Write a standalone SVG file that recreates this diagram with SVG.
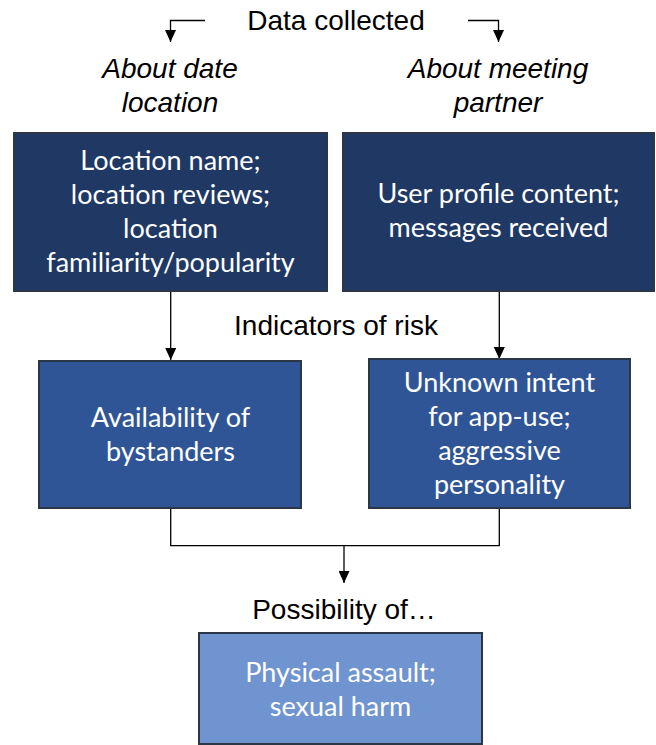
<svg xmlns="http://www.w3.org/2000/svg" width="656" height="745" viewBox="0 0 656 745">
<style>
.lbl{font-family:"Liberation Sans",Arial,sans-serif;font-size:28px;fill:#000;text-anchor:middle}
.it{font-style:italic}
.bt{font-family:Lato,"Open Sans",sans-serif;font-size:27px;fill:#fff;text-anchor:middle}
.box{stroke:#2B3646;stroke-width:2}
.dark{fill:#203864}
.mid{fill:#2F5597}
.light{fill:#7094D0}
.ln{fill:none;stroke:#000;stroke-width:1.3}
</style>
<defs>
<marker id="ah" markerWidth="12" markerHeight="11" refX="12" refY="5.5" orient="auto" markerUnits="userSpaceOnUse">
<path d="M0,0 L12,5.5 L0,11 Z" fill="#000"/>
</marker>
</defs>
<g id="labels">
<text class="lbl" x="336" y="30">Data collected</text>
<text class="lbl it" x="170" y="78">About date</text>
<text class="lbl it" x="170" y="112">location</text>
<text class="lbl it" x="498" y="78">About meeting</text>
<text class="lbl it" x="498" y="112">partner</text>
<text class="lbl" x="336" y="335">Indicators of risk</text>
<text class="lbl" x="344" y="619">Possibility of…</text>
</g>
<g id="connectors">
<path class="ln" d="M205,20.5 H170.5 V42" marker-end="url(#ah)"/>
<path class="ln" d="M468,20.5 H498.5 V42" marker-end="url(#ah)"/>
<path class="ln" d="M170.7,291 V360" marker-end="url(#ah)"/>
<path class="ln" d="M499.3,291 V359" marker-end="url(#ah)"/>
<path class="ln" d="M170.7,509 V545.7 H499.3 V509"/>
<path class="ln" d="M344,545.7 V583" marker-end="url(#ah)"/>
</g>
<g id="n1">
<rect class="box dark" x="14" y="133" width="313" height="158"/>
<text class="bt" x="170.5" y="170">Location name;</text>
<text class="bt" x="170.5" y="204">location reviews;</text>
<text class="bt" x="170.5" y="238">location</text>
<text class="bt" x="170.5" y="272">familiarity/popularity</text>
</g>
<g id="n2">
<rect class="box dark" x="343" y="133" width="311" height="158"/>
<text class="bt" x="498.5" y="203">User profile content;</text>
<text class="bt" x="498.5" y="237">messages received</text>
</g>
<g id="n3">
<rect class="box mid" x="39" y="361" width="262" height="147"/>
<text class="bt" x="170.5" y="427">Availability of</text>
<text class="bt" x="170.5" y="461">bystanders</text>
</g>
<g id="n4">
<rect class="box mid" x="369" y="359" width="261" height="149"/>
<text class="bt" x="499.5" y="392">Unknown intent</text>
<text class="bt" x="499.5" y="426">for app-use;</text>
<text class="bt" x="499.5" y="460">aggressive</text>
<text class="bt" x="499.5" y="494">personality</text>
</g>
<g id="n5">
<rect class="box light" x="199" y="633" width="283" height="111"/>
<text class="bt" x="340.5" y="682">Physical assault;</text>
<text class="bt" x="340.5" y="716">sexual harm</text>
</g>
</svg>
